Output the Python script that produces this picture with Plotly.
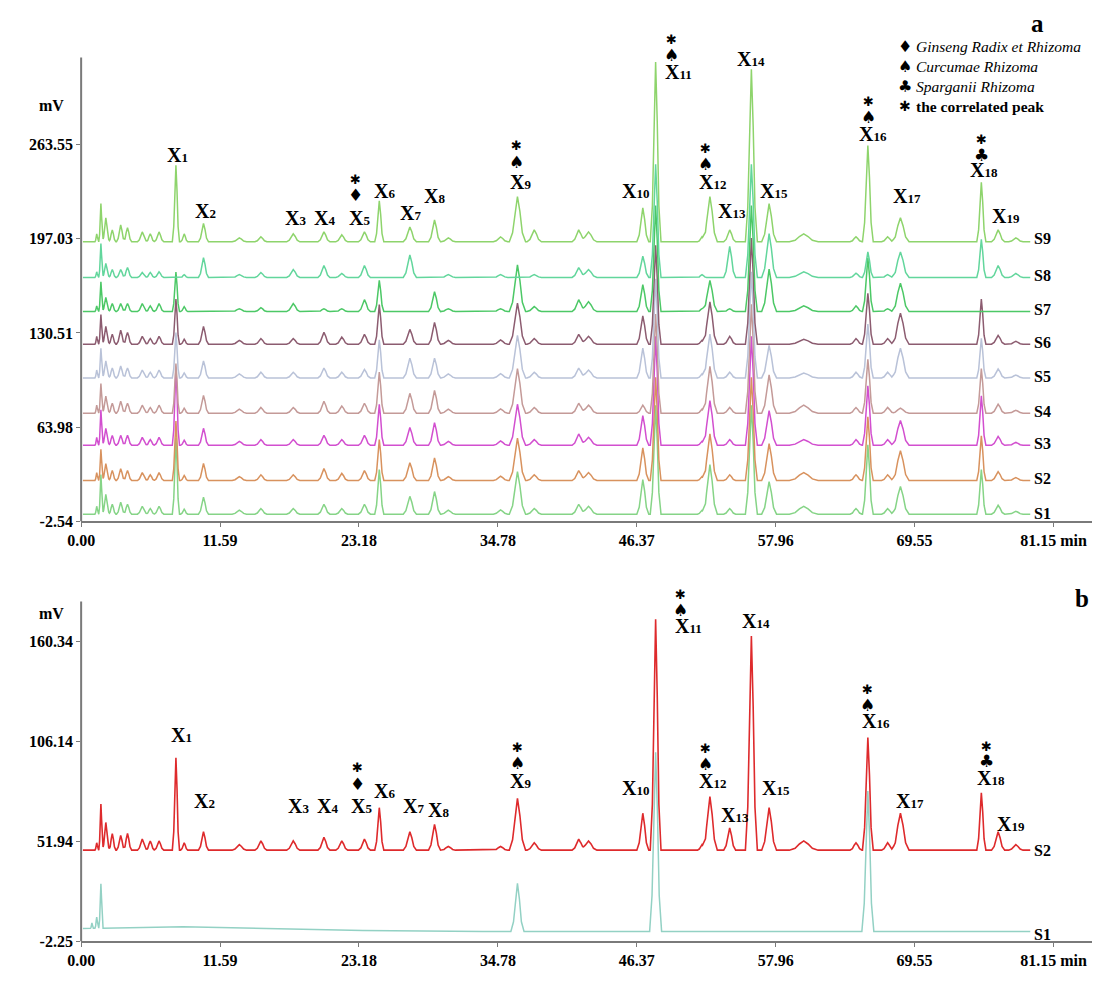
import plotly.graph_objects as go

W, H = 1100, 981

# ---------------- data ----------------
# retention times of the detected peaks (min) and their half base widths (min)
peak_times = [1.30, 1.65, 2.06, 2.60, 3.30, 3.87, 5.10, 5.77, 6.50, 7.91, 8.60, 10.21,
              13.2, 15.0, 17.7, 20.26, 21.75, 23.64, 24.88, 27.43, 29.49, 30.64,
              35.0, 36.41, 37.81, 41.52, 42.34, 46.87, 47.94, 51.81, 52.47, 54.12,
              55.93, 57.41, 60.3, 64.66, 65.65, 67.3, 68.37, 75.12, 76.52, 78.0]
peak_widths = [0.15, 0.18, 0.3, 0.3, 0.35, 0.35, 0.4, 0.35, 0.4, 0.3, 0.3, 0.42,
               0.6, 0.5, 0.55, 0.5, 0.5, 0.5, 0.38, 0.55, 0.5, 0.6,
               0.6, 0.68, 0.6, 0.55, 0.7, 0.5, 0.45, 0.38, 0.62, 0.5,
               0.5, 0.62, 1.2, 0.5, 0.45, 0.5, 0.72, 0.38, 0.55, 0.6]

# panel a: peak heights above each sample's own baseline (mV)
S9_heights = [5.6, 27, 17, 8.4, 12, 10, 7, 5.6, 7, 54, 5.6, 13, 2.8, 3.5, 5.6, 7, 4.9, 7, 29, 10.5, 15.4, 2.8,
              3.5, 32, 8.4, 8.4, 7, 24, 127, 3.5, 32, 8.4, 122, 27, 5.6, 3.5, 68, 3.5, 17, 42, 8.4, 2.8]
S8_heights = [4, 24, 10, 5.6, 5.6, 7, 3.5, 3.5, 4, 0, 2, 14, 2, 3.5, 5.6, 8.4, 2.8, 8.4, 0, 16, 0, 2,
              2, 0, 2, 7, 5.6, 15, 80, 2, 0, 22, 80, 31, 4, 3, 18, 2, 18, 27, 8.4, 2.8]
S7_heights = [4, 21, 10, 5.6, 5.6, 5.6, 5.6, 4, 5.6, 28, 3.5, 0, 2, 2.8, 5.6, 2, 2, 8.4, 22, 0, 14, 2,
              2, 33, 3.5, 8.4, 7, 19, 75, 2, 22, 2, 75, 30, 4, 4, 38, 2, 20, 0, 0, 0]
S6_heights = [5.6, 21, 12.6, 7, 10, 8.4, 5.6, 4, 5.6, 32, 3.5, 12.6, 2.8, 4, 4, 8.4, 5, 7, 28, 10.5, 15.4, 2.8,
              3, 29, 4, 7, 5.6, 20, 70, 2.8, 30, 5.6, 75, 0, 3.5, 4, 36, 4, 22, 32, 6.3, 2]
S5_heights = [5.6, 21, 12, 7, 8.4, 7, 5.6, 4, 5.6, 32, 3.5, 12, 2.8, 4, 4, 7, 4, 6, 27, 14, 14, 2.8,
              3, 30, 4, 7, 5.6, 21, 70, 2.8, 31, 4, 75, 23, 3.5, 4, 38, 4, 21, 28, 6.3, 2]
S4_heights = [5.6, 21, 12, 7, 8.4, 7, 5.6, 4, 5.6, 35, 3.5, 12.6, 2.8, 4, 4, 8.4, 5, 7, 29, 14, 16, 2.8,
              3, 31.5, 4, 7, 5.6, 5.6, 70, 2.8, 33, 4, 77, 27, 5.6, 4, 38, 4, 3.5, 31.5, 6.3, 2]
S3_heights = [5.6, 25, 12, 7, 7, 7, 5.6, 4, 5.6, 55, 3.5, 12, 2.8, 4, 4, 7, 4, 7, 29, 12.6, 16, 2.8,
              3, 29, 4, 8, 5.6, 21, 77, 2.8, 31.5, 4, 77, 24.5, 4, 4, 42, 4, 17.5, 35, 6.3, 2]
S2_heights = [5.6, 22, 12, 7, 8.4, 7, 5.6, 4, 5.6, 42, 3.5, 12, 2.8, 4, 4, 8.4, 5, 7, 29, 12.6, 16, 2.8,
              3, 30, 4, 7, 5.6, 23, 73, 2.8, 33, 4, 73, 26, 5.6, 4, 45, 4, 21, 31.5, 6.3, 2]
S1_heights = [5.6, 28, 14, 7, 8.4, 7, 5.6, 4, 5.6, 54, 3.5, 12, 2.8, 4, 4, 7, 4, 7, 31.5, 12.6, 16, 2.8,
              3, 30, 4, 7, 5.6, 24.5, 77, 2.8, 35, 4, 77, 23, 5.6, 4, 49, 4, 19.6, 31.5, 6.3, 2]

sample_names = ["S1", "S2", "S3", "S4", "S5", "S6", "S7", "S8", "S9"]
sample_baselines = [2.4, 26.2, 51.1, 73.8, 98.7, 122.5, 145.6, 169.7, 194.9]   # mV
sample_colors = ["#86d487", "#d8925e", "#d24fcf", "#c49a98", "#b9c2d8",
                 "#8c5c70", "#4cc866", "#62d69c", "#8ed46c"]

# panel b
b_S2_heights = [4, 25, 15, 9, 8, 9, 6, 5, 5, 50, 4, 10, 3, 5, 5, 7, 5, 6, 23, 10, 14, 2,
                2, 28, 4, 6, 5, 20, 125, 3, 29, 12, 116, 23, 5, 4, 61, 4, 20, 31, 10, 3]
b_S2_baseline = 47.1
b_S1_times = [0.9, 1.30, 1.65, 8.5, 36.41, 47.94, 65.65]
b_S1_widths = [0.12, 0.15, 0.18, 25.0, 0.55, 0.5, 0.5]
b_S1_heights = [3, 6, 24, 2.5, 26, 97, 76]
b_S1_baseline = 3.1

x_tick_vals = [0.0, 11.59, 23.18, 34.78, 46.37, 57.96, 69.55, 81.15]
x_tick_text = ["0.00", "11.59", "23.18", "34.78", "46.37", "57.96", "69.55", "81.15 min"]
a_y_ticks = [-2.54, 63.98, 130.51, 197.03, 263.55]
b_y_ticks = [-2.25, 51.94, 106.14, 160.34]

# bell-like peak profile (fraction of apex height vs. fraction of half base width)
PROFILE_U = [0.0, 0.3, 0.6, 1.0]
PROFILE_F = [1.0, 0.67, 0.2, 0.0]


def profile(u):
    for i in range(len(PROFILE_U) - 1):
        u0, u1 = PROFILE_U[i], PROFILE_U[i + 1]
        if u0 <= u <= u1:
            f0, f1 = PROFILE_F[i], PROFILE_F[i + 1]
            return f0 + (f1 - f0) * (u - u0) / (u1 - u0)
    return 0.0


def chromatogram(times, widths, heights, base, t0, t1):
    pts = {t0, t1}
    for t, w, h in zip(times, widths, heights):
        if h > 0:
            for u in PROFILE_U:
                pts.update([t - u * w, t + u * w])
    xs = sorted(p for p in pts if t0 <= p <= t1)
    ys = []
    for x in xs:
        y = base
        for t, w, h in zip(times, widths, heights):
            if h > 0 and abs(x - t) < w:
                y += h * profile(abs(x - t) / w)
        ys.append(y)
    return xs, ys


# ---------------- layout geometry (pixels) ----------------
X0, PXMIN = 68, 12.138          # x pixel of 0 min, pixels per minute
XR = 1092
def px(x): return x / W
def py(y): return 1 - y / H

T_START, T_END = 0.15, 79.2

fig = go.Figure()

for name, base, col, hts in zip(sample_names, sample_baselines, sample_colors,
                                [S1_heights, S2_heights, S3_heights, S4_heights, S5_heights,
                                 S6_heights, S7_heights, S8_heights, S9_heights]):
    xs, ys = chromatogram(peak_times, peak_widths, hts, base, T_START, T_END)
    fig.add_trace(go.Scatter(x=xs, y=ys, mode="lines", line=dict(color=col, width=1.5),
                             name=name, xaxis="x", yaxis="y", showlegend=False, hoverinfo="skip"))

xs, ys = chromatogram(b_S1_times, b_S1_widths, b_S1_heights, b_S1_baseline, T_START, T_END)
fig.add_trace(go.Scatter(x=xs, y=ys, mode="lines", line=dict(color="#93d1c4", width=1.5),
                         xaxis="x2", yaxis="y2", showlegend=False, hoverinfo="skip"))
xs, ys = chromatogram(peak_times, peak_widths, b_S2_heights, b_S2_baseline, T_START, T_END)
fig.add_trace(go.Scatter(x=xs, y=ys, mode="lines", line=dict(color="#de2a2c", width=1.6),
                         xaxis="x2", yaxis="y2", showlegend=False, hoverinfo="skip"))

SERIF = "Liberation Serif"
tickfont = dict(family=SERIF, size=16, color="black", weight="bold")
AXC = "#7a7a7a"

# panel a axes: -2.54 at y=526, 263.55 at y=146
a_scale = (526 - 146) / (263.55 + 2.54)
a_top_px = 50
a_ymax = 263.55 + (146 - a_top_px) / a_scale
# panel b axes: -2.25 at y=950, 160.34 at y=647
b_scale = (950 - 647) / (160.34 + 2.25)
b_top_px = 560
b_ymax = 160.34 + (647 - b_top_px) / b_scale
x_max = (XR - X0) / PXMIN

common_x = dict(range=[0, x_max], showline=True, linecolor=AXC, linewidth=2, ticks="outside",
                ticklen=4, tickcolor=AXC, tickvals=x_tick_vals, ticktext=x_tick_text,
                tickfont=tickfont, showgrid=False, zeroline=False, fixedrange=True)
fig.update_layout(
    xaxis=dict(domain=[px(X0), px(XR)], anchor="y", **common_x),
    xaxis2=dict(domain=[px(X0), px(XR)], anchor="y2", **common_x),
    yaxis=dict(domain=[py(526), py(a_top_px)], range=[-2.54, a_ymax], anchor="x",
               showline=False, ticks="outside", ticklen=4, tickcolor=AXC,
               tickvals=a_y_ticks, ticktext=[f"{v:.2f}" for v in a_y_ticks],
               tickfont=tickfont, showgrid=False, zeroline=False, fixedrange=True),
    yaxis2=dict(domain=[py(950), py(b_top_px)], range=[-2.25, b_ymax], anchor="x2",
                showline=False, ticks="outside", ticklen=4, tickcolor=AXC,
                tickvals=b_y_ticks, ticktext=[f"{v:.2f}" for v in b_y_ticks],
                tickfont=tickfont, showgrid=False, zeroline=False, fixedrange=True),
    width=W, height=H, autosize=False,
    margin=dict(l=0, r=0, t=0, b=0),
    paper_bgcolor="white", plot_bgcolor="white",
)

# y axis lines
fig.add_shape(type="line", xref="paper", yref="paper", x0=px(X0), x1=px(X0),
              y0=py(526), y1=py(58), line=dict(color=AXC, width=2))
fig.add_shape(type="line", xref="paper", yref="paper", x0=px(X0), x1=px(X0),
              y0=py(950), y1=py(607), line=dict(color=AXC, width=2))

anns = []
def ann(x, y, text, size=15, xanchor="center", italic=False, bold=True, family=SERIF):
    anns.append(dict(x=px(x), y=py(y), xref="paper", yref="paper", text=text, showarrow=False,
                     xanchor=xanchor, yanchor="middle",
                     font=dict(family=family, size=size, color="black",
                               weight="bold" if bold else "normal",
                               style="italic" if italic else "normal")))

def xl(n):
    return f"X<span style='font-size:13px'>{n}</span>"

SYM = "DejaVu Sans"
ann(38, 106, "mV", 16)
ann(38, 619, "mV", 16)
ann(1037, 24, "a", 25)
ann(1082, 604, "b", 25)

# legend
leg = [(47, "♦", "Ginseng Radix et Rhizoma", True), (67, "♠", "Curcumae Rhizoma", True),
       (87, "♣", "Sparganii Rhizoma", True), (107, "✱", "the correlated peak", False)]
for y, s, t, it in leg:
    ann(902, y, s, 16 if s != "✱" else 14, "center", bold=False, family=SYM)
    ann(912, y, t, 15.5, "left", italic=it, bold=not it)

def marks(items):
    for x, y, s in items:
        if s == "*":
            ann(x, y, "✱", 13, bold=False, family=SYM)
        else:
            ann(x, y, s, 17, bold=False, family=SYM)

# panel a peak labels
a_labels = [(166, 156), (194, 213), (285, 220), (315, 220), (350, 220), (375, 193), (402, 215),
            (426, 198), (513, 184), (630, 193), (673, 73), (707, 184), (727, 213), (747, 60),
            (770, 193), (870, 135), (905, 198), (982, 172), (1005, 218)]
for i, (x, y) in enumerate(a_labels):
    ann(x, y, xl(i + 1), 20)
marks([(346, 197, "♦"), (346, 181, "*"), (509, 164, "♠"), (509, 147, "*"),
       (666, 56, "♠"), (666, 40, "*"), (700, 166, "♠"), (700, 150, "*"),
       (866, 118, "♠"), (866, 102, "*"), (980, 156, "♣"), (980, 141, "*")])

# panel b peak labels
b_labels = [(170, 742), (193, 808), (288, 813), (318, 813), (352, 813), (375, 798), (405, 813),
            (430, 818), (513, 788), (630, 795), (683, 632), (708, 788), (730, 823), (752, 627),
            (772, 795), (873, 728), (908, 808), (990, 785), (1010, 832)]
for i, (x, y) in enumerate(b_labels):
    ann(x, y, xl(i + 1), 20)
marks([(348, 791, "♦"), (348, 775, "*"), (510, 770, "♠"), (510, 754, "*"),
       (675, 616, "♠"), (675, 600, "*"), (700, 771, "♠"), (700, 755, "*"),
       (864, 712, "♠"), (864, 696, "*"), (985, 768, "♣"), (985, 753, "*")])

# sample labels
a_sample_y = [518, 483, 448, 415, 380, 346, 312, 278, 241]
for name, y in zip(sample_names, a_sample_y):
    ann(1031, y, name, 16, "left")
ann(1031, 858, "S2", 16, "left")
ann(1031, 943, "S1", 16, "left")

fig.update_layout(annotations=anns)
fig.write_html("out.html", config={"displayModeBar": False},
               post_script="document.body.style.margin='0px';document.body.style.overflow='hidden';")
